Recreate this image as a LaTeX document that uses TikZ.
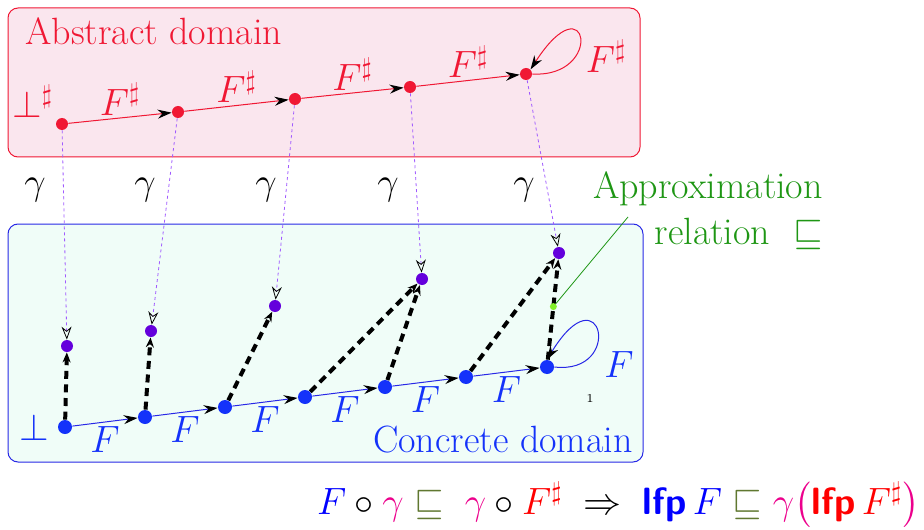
\RequirePackage{fix-cm}
\documentclass[tikz,border=0pt]{standalone}
\usepackage{xcolor}
\usepackage{amsmath}
\usepackage{amssymb}
\usetikzlibrary{arrows.meta, positioning, calc}

\definecolor{absred}{RGB}{240,24,52}
\definecolor{absfill}{RGB}{250,230,238}
\definecolor{conblue}{RGB}{20,50,250}
\definecolor{conline}{RGB}{40,40,230}
\definecolor{confill}{RGB}{240,253,248}
\definecolor{imgpurple}{RGB}{100,0,220}
\definecolor{gamline}{RGB}{160,90,255}
\definecolor{apxgreen}{RGB}{30,150,20}
\definecolor{apxdot}{RGB}{130,240,40}
\definecolor{relolive}{RGB}{96,120,48}
\tikzset{every node/.append style={inner sep=2pt}}

\begin{document}
\begin{tikzpicture}[x=0.5pt, y=-0.5pt,
    font=\fontsize{19}{23}\selectfont,
    absnode/.style={circle, fill=absred, inner sep=0pt, minimum size=6pt},
    connode/.style={circle, fill=conblue, inner sep=0pt, minimum size=7pt},
    imgnode/.style={circle, fill=imgpurple, inner sep=0pt, minimum size=6pt},
    absbox/.style={draw=absred, fill=absfill, rounded corners=5pt, line width=0.5pt},
    conbox/.style={draw=conline, fill=confill, rounded corners=5pt, line width=0.5pt},
    absedge/.style={-{Stealth[length=7pt, width=4.5pt, black]}, absred, line width=0.5pt},
    conedge/.style={-{Stealth[length=7pt, width=4.5pt, black]}, conline, line width=0.5pt},
    gam/.style={-{Stealth[open, length=6.5pt, width=5pt, black]}, gamline,
        line width=0.4pt, dash pattern=on 1.5pt off 1.5pt},
    apx/.style={-{Stealth[length=5pt, width=4pt]}, black, line width=2pt,
        dash pattern=on 4pt off 2.8pt},
    abslab/.style={text=absred},
    conlab/.style={text=conblue}
]
\useasboundingbox (0,0) rectangle (924,529);

% ===== DOMAINS =====
\draw[absbox] (8,8) rectangle (640,157);
\draw[conbox] (8,224) rectangle (643,462);
\node[abslab, anchor=west] (absname) at (21,31) {Abstract domain};
\node[conlab, anchor=east] (conname) at (637,440) {Concrete domain};

% ===== ABSTRACT CHAIN =====
\node[absnode] (a0) at (62,124) {};
\node[absnode] (a1) at (178,112) {};
\node[absnode] (a2) at (295,99) {};
\node[absnode] (a3) at (410,87) {};
\node[absnode] (a4) at (526,74) {};
\node[abslab, above left=-1pt and 0pt of a0] (abot) {$\bot^\sharp$};
\draw[absedge] (a0) -- node[abslab, above=-1pt] (f1) {$F^\sharp$} (a1);
\draw[absedge] (a1) -- node[abslab, above=-1pt] (f2) {$F^\sharp$} (a2);
\draw[absedge] (a2) -- node[abslab, above=-1pt] (f3) {$F^\sharp$} (a3);
\draw[absedge] (a3) -- node[abslab, above=-1pt] (f4) {$F^\sharp$} (a4);
\draw[absedge] (a4.east) .. controls +(72,4) and +(58,-90) .. (a4.north east);
\node[abslab] (f5) at (606,56) {$F^\sharp$};

% ===== CONCRETE CHAIN =====
\node[connode] (c0) at (65,427) {};
\node[connode] (c1) at (145,417) {};
\node[connode] (c2) at (225,407) {};
\node[connode] (c3) at (305,397) {};
\node[connode] (c4) at (385,387) {};
\node[connode] (c5) at (466,377) {};
\node[connode] (c6) at (547,367) {};
\node[conlab, left=2pt of c0] (cbot) {$\bot$};
\draw[conedge] (c0) -- node[conlab, below] (g1) {$F$} (c1);
\draw[conedge] (c1) -- node[conlab, below] (g2) {$F$} (c2);
\draw[conedge] (c2) -- node[conlab, below] (g3) {$F$} (c3);
\draw[conedge] (c3) -- node[conlab, below] (g4) {$F$} (c4);
\draw[conedge] (c4) -- node[conlab, below] (g5) {$F$} (c5);
\draw[conedge] (c5) -- node[conlab, below] (g6) {$F$} (c6);
\draw[conedge] (c6.east) .. controls +(70,8) and +(55,-90) .. (c6.north);
\node[conlab] (g7) at (619,365) {$F$};
\node[font=\fontsize{6}{7}\selectfont] (pg) at (590,399) {1};

% ===== IMAGES BY GAMMA =====
\node[imgnode] (i0) at (67,346) {};
\node[imgnode] (i1) at (151,331) {};
\node[imgnode] (i2) at (275,306) {};
\node[imgnode] (i3) at (422,279) {};
\node[imgnode] (i4) at (559,253) {};
\draw[gam] (a0) -- (i0);
\draw[gam] (a1) -- (i1);
\draw[gam] (a2) -- (i2);
\draw[gam] (a3) -- (i3);
\draw[gam] (a4) -- (i4);
\node (y0) at (35,190) {$\gamma$};
\node (y1) at (145,190) {$\gamma$};
\node (y2) at (266,190) {$\gamma$};
\node (y3) at (388,190) {$\gamma$};
\node (y4) at (524,190) {$\gamma$};

% ===== APPROXIMATION =====
\draw[apx] (c0) -- (i0);
\draw[apx] (c1) -- (i1);
\draw[apx] (c2) -- (i2);
\draw[apx] (c3) -- (i3);
\draw[apx] (c4) -- (i3);
\draw[apx] (c5) -- (i4);
\draw[apx] (c6) -- (i4);
\node[circle, fill=apxdot, inner sep=0pt, minimum size=3.5pt]
    (apxpt) at ($(c6)!0.53!(i4)$) {};
\node[text=apxgreen, align=right] (apxtxt) at (708,211)
    {Approximation\\relation\ \ $\sqsubseteq$};
\coordinate (apxend) at (628,217);
\draw[apxgreen, line width=0.4pt] (apxpt) -- (apxend);

% ===== LAW =====
\node[anchor=east] (law) at (924,505)
    {$\textcolor{blue}{F}\circ\textcolor{magenta}{\gamma}\;\textcolor{relolive}{\sqsubseteq}\;\;
      \textcolor{magenta}{\gamma}\circ\textcolor{red}{F^\sharp}\;\Rightarrow\;
      \textcolor{blue}{\text{\sffamily\bfseries lfp}\,F}\;\textcolor{relolive}{\sqsubseteq}\;
      \textcolor{magenta}{\gamma\bigl(}\textcolor{red}{\text{\sffamily\bfseries lfp}\,F^\sharp}\textcolor{magenta}{\bigr)}$};
\end{tikzpicture}
\end{document}
